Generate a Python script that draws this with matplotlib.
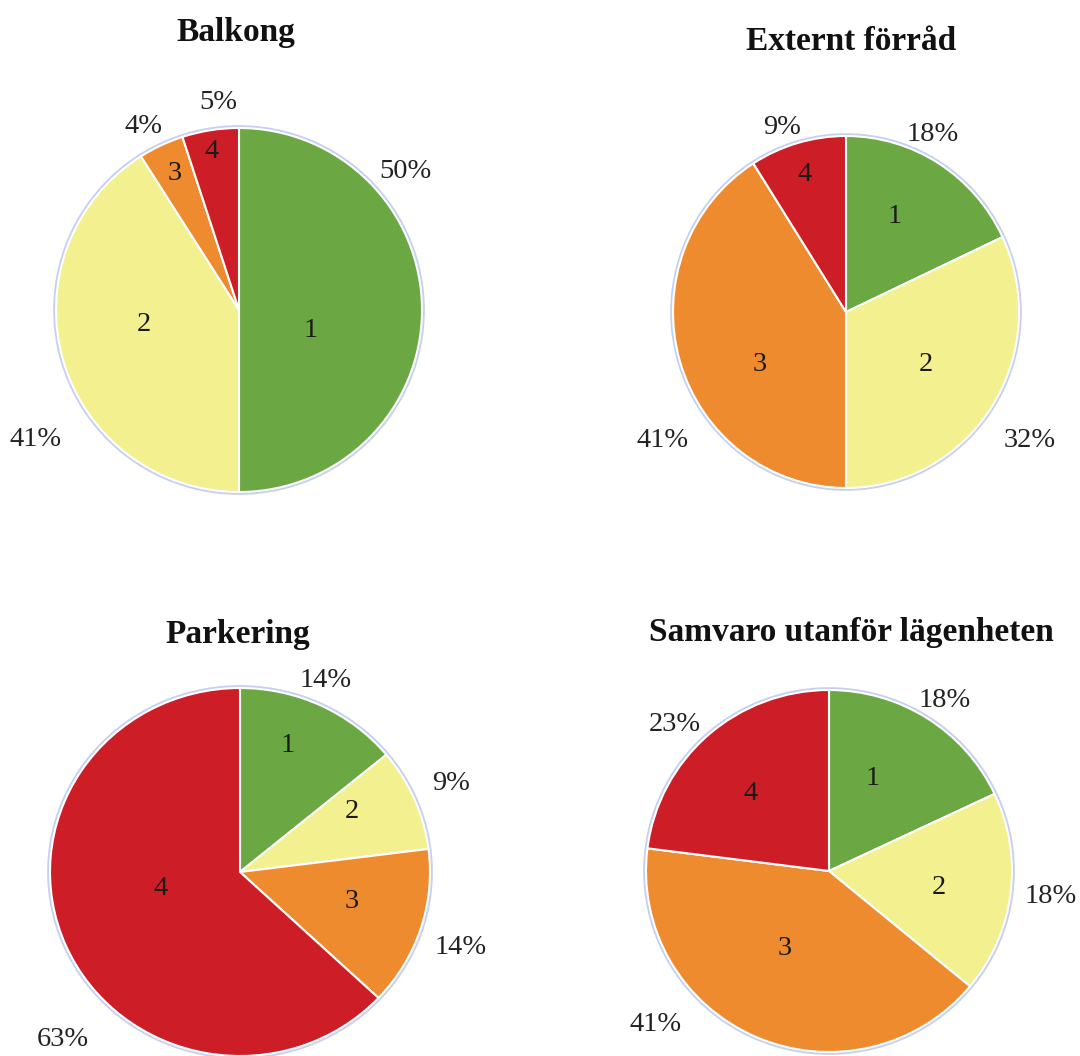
import matplotlib.pyplot as plt
from matplotlib.patches import Ellipse

plt.rcParams['font.family'] = ['Liberation Serif', 'DejaVu Serif']

# svarsfördelning per fråga, andel (%) för svarsalternativ 1-4
titles = ['Balkong', 'Externt förråd', 'Parkering', 'Samvaro utanför lägenheten']
categories = ['1', '2', '3', '4']
balkong = [50, 41, 4, 5]
externt = [18, 32, 41, 9]
parkering = [14, 9, 14, 63]
samvaro = [18, 18, 41, 23]
series = [balkong, externt, parkering, samvaro]

colors = ['#6ba843', '#f3f08f', '#ef8b2f', '#cd1e28']

W, H = 1080, 1056

# placering i pixlar: mittpunkt, radie (x, y), titelns läge
layout = [
    dict(c=(239, 310), rx=183, ry=182, tx=236, ty=33),
    dict(c=(846, 312), rx=173, ry=176, tx=851, ty=41),
    dict(c=(240, 872), rx=190, ry=184, tx=238, ty=635),
    dict(c=(829, 871), rx=183, ry=181, tx=851, ty=632),
]

# etikettlägen i enheter av radien (x, y)
pct_pos = [
    [(0.91, 0.76), (-1.11, -0.71), (-0.52, 1.01), (-0.115, 1.14)],
    [(0.50, 1.01), (1.06, -0.73), (-1.06, -0.73), (-0.37, 1.05)],
    [(0.45, 1.04), (1.11, 0.48), (1.16, -0.41), (-0.93, -0.91)],
    [(0.63, 0.94), (1.21, -0.14), (-0.95, -0.85), (-0.84, 0.81)],
]
num_pos = [
    [(0.39, -0.11), (-0.52, -0.08), (-0.35, 0.75), (-0.15, 0.87)],
    [(0.28, 0.54), (0.46, -0.30), (-0.50, -0.30), (-0.24, 0.78)],
    [(0.25, 0.69), (0.59, 0.33), (0.59, -0.16), (-0.42, -0.09)],
    [(0.24, 0.51), (0.60, -0.09), (-0.24, -0.43), (-0.43, 0.43)],
]

fig = plt.figure(figsize=(W / 100, H / 100), dpi=100)
k = 1.5

for i, vals in enumerate(series):
    cx, cy = layout[i]['c']
    rx, ry = layout[i]['rx'], layout[i]['ry']
    ax = fig.add_axes([(cx - k * rx) / W, (H - cy - k * ry) / H,
                       2 * k * rx / W, 2 * k * ry / H])

    # ljusblå kant runt cirkeln
    ax.add_patch(Ellipse((0, 0), 2.012, 2.012, fill=False,
                         edgecolor='#c5d0f0', linewidth=2.5, zorder=0))
    ax.pie(vals, startangle=90, counterclock=False, colors=colors,
           radius=1, frame=True,
           wedgeprops=dict(edgecolor='white', linewidth=1.5))
    ax.set_xlim(-k, k)
    ax.set_ylim(-k, k)
    ax.set_aspect('auto')
    ax.axis('off')

    for v, (px, py) in zip(vals, pct_pos[i]):
        ax.text(px, py, f'{v}%', ha='center', va='center', fontsize=20.5,
                color='#222222', clip_on=False)
    for lab, (nx, ny) in zip(categories, num_pos[i]):
        ax.text(nx, ny, lab, ha='center', va='center', fontsize=20.5,
                color='#1a1a1a', clip_on=False)

    tx = (layout[i]['tx'] - cx) / rx
    ty = (cy - layout[i]['ty']) / ry
    ax.text(tx, ty, titles[i], ha='center', va='center', fontsize=24,
            fontweight='bold', color='#111111', clip_on=False)

fig.savefig('out.png', dpi=100, facecolor='white')
